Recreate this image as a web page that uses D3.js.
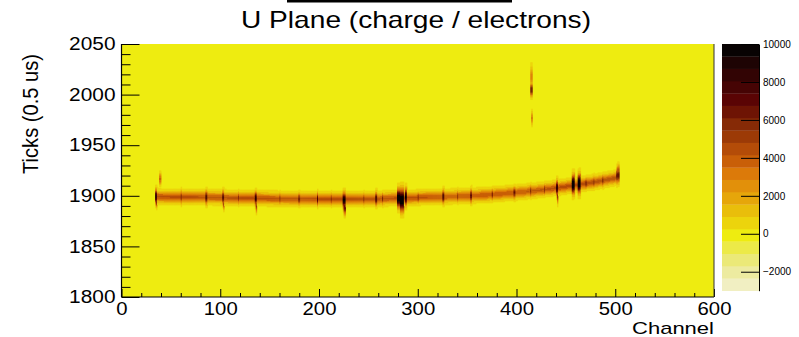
<!DOCTYPE html>
<html><head><meta charset="utf-8">
<script src="https://cdn.jsdelivr.net/npm/d3@7"></script>
<style>
html,body{margin:0;padding:0;background:#fff;}
svg{display:block;font-family:"Liberation Sans",Arial,Helvetica,sans-serif;}
</style></head>
<body><svg id="c" width="799" height="337"></svg>
<script>
// ---------- data ----------
const title = "U Plane (charge / electrons)";
const xLabel = "Channel";
const yLabel = "Ticks (0.5 us)";
const xTicks = [0,100,200,300,400,500,600];
const yTicks = [1800,1850,1900,1950,2000,2050];
const zTicks = [-2000,0,2000,4000,6000,8000,10000];
const zMin = -3000, zMax = 10000, nLevels = 20;
// palette, bottom (lowest) level to top
const paletteColors = ["#f1efc2","#edeba0","#ebe978","#ecea48","#eeec10",
  "#ecd40c","#e9be0b","#e6a60a","#e2900a","#dc7a09",
  "#c95f08","#b44c08","#9c3a06","#862a06","#6e1404",
  "#5a0404","#460404","#320404","#1e0404","#080303"];
// track: node channels, centre tick, baseline peak charge
const trackCh   = [34,   60,   100,   150,   200,  250,  300,   350,  375,   400,   420,   440,  460,  480,  503];
const trackTick = [1899.5,1899,1898.5,1897.5,1897,1897,1898.5,1900,1901.5,1903.5,1905.5,1908,1911,1914,1918.5];
const trackQ    = [4300, 4200, 4300,  4200,  4200, 4300, 4200,  4000, 4000,  4100,  4200,  4300, 4400, 4400, 4500];
const trackSigma = 3.4;
// charge spikes on the track (relative to track centre)
const spikeCh    = [34,35,60,85,102,103,118,135,136,160,179,198,212,224,225,245,257,264,279,282,287,300,325,340,353,375,397,414,428,440,441,456,462,470,478,487,501,502];
const spikeWidth = [2, 1, 1, 2, 2,  1,  1,  2,  1,  1,  2,  1,  1,  3,  2,  1,  2,  1,  3,  4,  2,  1,  2,  1,  2,  1,  2,  1,  1,  2,  1,  3,  3,  1,  1,  1,  3,  2];
const spikeDt    = [0,-5, 0, 0, 0, -6,  0,  0, -7,  0,  0,  0,  0, -1, -8,  0,  0,  0,  0, -2,  1,  0,  0,  0,  0,  0,  0,  0,  0,  0, -8,  1,  1,  0,  0,  0,  2,  7];
const spikeQ     = [8500,6000,6000,7800,7500,5000,6000,8500,5500,6000,6500,7500,5800,9500,6500,6000,8000,6500,10500,11000,9500,6000,8000,6000,6800,6500,6800,6500,6000,8500,5500,11000,11000,6500,6000,6500,7000,4500];
const spikeSigma = [4.5,3.5,4,4,4,3.5,3.5,4,4,3.5,3.5,4,3.5,4.5,4.5,3.5,4,3.5,5.5,6.5,5,3.5,4,3.5,4,3.5,3.5,3.5,3.5,4.5,4.5,5.5,5.5,3.5,3.5,3.5,4.5,3.5];
// isolated hits (absolute tick)
const hitCh    = [38,   414,  414,  415];
const hitWidth = [2,    2,    2,    1];
const hitTick  = [1917, 2018, 2005, 1977];
const hitQ     = [3800, 3200, 6800, 3600];
const hitSigma = [3.5,  6,    4,    4];

// ---------- layout ----------
const svg = d3.select("#c");
const fL = 121.5, fR = 714, fT = 44, fB = 297;
const x = d3.scaleLinear().domain([0,600]).range([fL,fR]);
const y = d3.scaleLinear().domain([1800,2050]).range([fB,fT]);
const zPos = d3.scaleLinear().domain([zMin,zMax]).range([290.7,fT]);
const levelEdges = d3.range(1,nLevels).map(i => zMin + i*(zMax-zMin)/nLevels);
const color = d3.scaleThreshold().domain(levelEdges).range(paletteColors);

// background (zero charge)
svg.append("rect").attr("x",fL).attr("y",fT).attr("width",fR-fL).attr("height",fB-fT).attr("fill",color(0));

// build cells
const center = d3.scaleLinear().domain(trackCh).range(trackTick).clamp(true);
const baseQ = d3.scaleLinear().domain(trackCh).range(trackQ).clamp(true);
const cells = [];
for (let ch = 0; ch < 600; ch++) {
  for (let t = 1800; t < 2050; t++) {
    let v = 0;
    const tc = t + 0.5;
    if (ch >= trackCh[0] && ch <= trackCh[trackCh.length-1]) {
      const c = center(ch);
      v = Math.max(v, baseQ(ch)*Math.exp(-((tc-c)**2)/(2*trackSigma**2)));
      for (let i = 0; i < spikeCh.length; i++) {
        if (ch >= spikeCh[i] && ch < spikeCh[i]+spikeWidth[i]) {
          const cc = c + spikeDt[i];
          v = Math.max(v, spikeQ[i]*Math.exp(-((tc-cc)**2)/(2*spikeSigma[i]**2)));
        }
      }
    }
    for (let i = 0; i < hitCh.length; i++) {
      if (ch >= hitCh[i] && ch < hitCh[i]+hitWidth[i]) {
        v = Math.max(v, hitQ[i]*Math.exp(-((tc-hitTick[i])**2)/(2*hitSigma[i]**2)));
      }
    }
    if (color(v) !== color(0)) cells.push({ch, t, v: Math.min(v, zMax-1)});
  }
}
svg.append("g").selectAll("rect").data(cells).join("rect")
  .attr("x", d => x(d.ch))
  .attr("y", d => y(d.t+1))
  .attr("width", x(1)-x(0)+0.35)
  .attr("height", y(1800)-y(1801)+0.35)
  .attr("fill", d => color(d.v));

// ---------- axes ----------
const axisColor = "#000";
const gx = svg.append("g").attr("transform",`translate(0,${fB})`)
  .call(d3.axisBottom(x).tickValues(d3.range(0,601,20).filter(v=>v%100)).tickSize(-4).tickFormat(""));
const gx2 = svg.append("g").attr("transform",`translate(0,${fB})`)
  .call(d3.axisBottom(x).tickValues(xTicks).tickSize(-8).tickPadding(5).tickFormat(d3.format("d")));
[gx,gx2].forEach(g=>{g.select(".domain").remove(); g.selectAll("line").attr("stroke",axisColor);});
gx2.selectAll("text").attr("fill","#000").attr("font-size",18)
  .attr("font-family","Liberation Sans, Arial, sans-serif")
  .attr("textLength", d => String(d).length*11.3).attr("lengthAdjust","spacingAndGlyphs");
const gy = svg.append("g").attr("transform",`translate(${fL},0)`)
  .call(d3.axisLeft(y).tickValues(d3.range(1800,2051,10).filter(v=>v%50)).tickSize(-9).tickFormat(""));
const gy2 = svg.append("g").attr("transform",`translate(${fL},0)`)
  .call(d3.axisLeft(y).tickValues(yTicks).tickSize(-18).tickPadding(6).tickFormat(d3.format("d")));
[gy,gy2].forEach(g=>{g.select(".domain").remove(); g.selectAll("line").attr("stroke",axisColor);});
gy2.selectAll("text").attr("fill","#000").attr("font-size",18)
  .attr("font-family","Liberation Sans, Arial, sans-serif")
  .attr("textLength", d => String(d).length*11.6).attr("lengthAdjust","spacingAndGlyphs");
svg.append("line").attr("x1",fL).attr("x2",fL).attr("y1",fT).attr("y2",fB).attr("stroke","#000").attr("stroke-width",1.2);
svg.append("line").attr("x1",fL).attr("x2",fR).attr("y1",fB).attr("y2",fB).attr("stroke","#000").attr("stroke-width",1.2);
svg.append("line").attr("x1",fR).attr("x2",fR).attr("y1",fT).attr("y2",fB).attr("stroke","#333").attr("stroke-width",1);

// ---------- palette ----------
const pL = 722, pR = 759;
svg.append("g").selectAll("rect").data(paletteColors).join("rect")
  .attr("x", pL).attr("width", pR-pL)
  .attr("y", (c,i) => zPos(zMin + (i+1)*(zMax-zMin)/nLevels))
  .attr("height", zPos(zMin) - zPos(zMin + (zMax-zMin)/nLevels) + 0.3)
  .attr("fill", c => c);
const gz = svg.append("g").attr("transform",`translate(${pR},0)`)
  .call(d3.axisRight(zPos).tickValues(zTicks).tickSize(0).tickPadding(4).tickFormat(d3.format("d")));
gz.select(".domain").attr("stroke","#000");
gz.selectAll(".tick").append("line").attr("x1",-18).attr("x2",0).attr("stroke","#000");
gz.selectAll("text").attr("fill","#000").attr("font-size",10).attr("font-family","Liberation Sans, Arial, sans-serif");

// ---------- titles ----------
svg.append("rect").attr("x",287).attr("y",0).attr("width",225).attr("height",2.5).attr("fill","#000");
svg.append("text").attr("x",416).attr("y",28).attr("text-anchor","middle")
  .attr("font-size",24).attr("textLength",350).attr("lengthAdjust","spacingAndGlyphs").text(title);
svg.append("text").attr("x",fR).attr("y",334).attr("text-anchor","end")
  .attr("font-size",17).attr("textLength",82).attr("lengthAdjust","spacingAndGlyphs").text(xLabel);
svg.append("text").attr("transform","translate(38,114) rotate(-90)").attr("text-anchor","middle")
  .attr("font-size",22).attr("textLength",120).attr("lengthAdjust","spacingAndGlyphs").text(yLabel);
</script></body></html>
